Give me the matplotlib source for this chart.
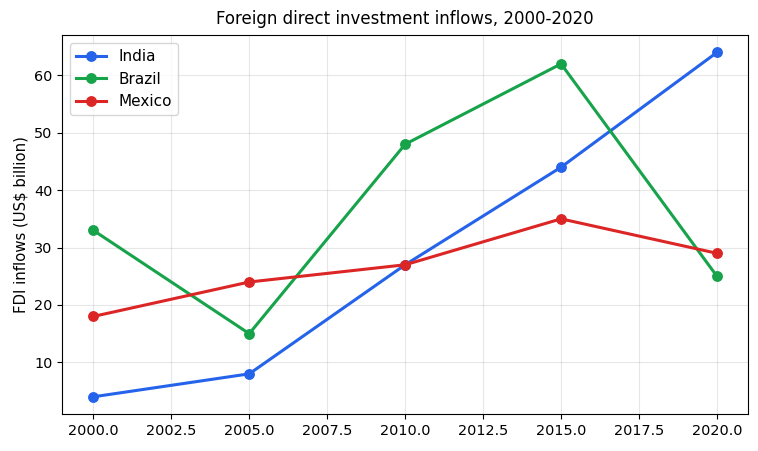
import matplotlib
matplotlib.use("Agg")
from matplotlib import pyplot as plt

years = [2000, 2005, 2010, 2015, 2020]
india = [4, 8, 27, 44, 64]
brazil = [33, 15, 48, 62, 25]
mexico = [18, 24, 27, 35, 29]

fig, ax = plt.subplots(figsize=(7.58, 4.51), dpi=100)
ax.plot(years, india, marker='o', color='#2563eb', linewidth=2.2, markersize=6.8, label='India')
ax.plot(years, brazil, marker='o', color='#16a34a', linewidth=2.2, markersize=6.8, label='Brazil')
ax.plot(years, mexico, marker='o', color='#dc2626', linewidth=2.2, markersize=6.8, label='Mexico')

ax.set_title('Foreign direct investment inflows, 2000-2020', fontsize=12, pad=8)
ax.set_ylabel('FDI inflows (US$ billion)', fontsize=10.7)
ax.tick_params(labelsize=10.4)
ax.grid(True, alpha=0.3)
ax.legend(loc='upper left', fontsize=11)

fig.subplots_adjust(left=0.082, right=0.987, top=0.922, bottom=0.082)
fig.savefig('out.png', dpi=100)
